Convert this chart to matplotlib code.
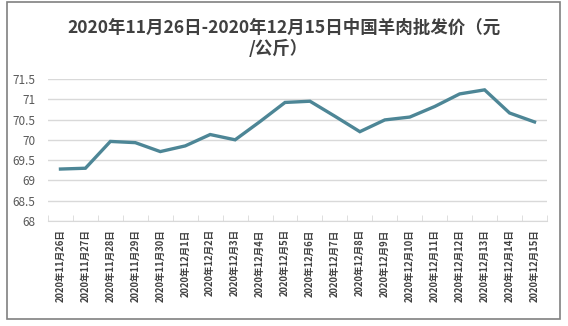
import matplotlib.pyplot as plt
from matplotlib.patches import Rectangle

plt.rcParams['font.family'] = ['Noto Sans CJK SC', 'DejaVu Sans']

# wholesale mutton price, yuan per kg
days = ['2020年11月26日', '2020年11月27日', '2020年11月28日', '2020年11月29日',
        '2020年11月30日', '2020年12月1日', '2020年12月2日', '2020年12月3日',
        '2020年12月4日', '2020年12月5日', '2020年12月6日', '2020年12月7日',
        '2020年12月8日', '2020年12月9日', '2020年12月10日', '2020年12月11日',
        '2020年12月12日', '2020年12月13日', '2020年12月14日', '2020年12月15日']
price = [69.28, 69.30, 69.96, 69.93, 69.71, 69.85, 70.13, 70.00, 70.45, 70.92,
         70.95, 70.58, 70.20, 70.49, 70.56, 70.82, 71.13, 71.23, 70.66, 70.44]
yticks = [68, 68.5, 69, 69.5, 70, 70.5, 71, 71.5]

fig = plt.figure(figsize=(5.68, 3.26), dpi=100)
ax = fig.add_axes([0.0845, 0.322, 0.8785, 0.436])

x = range(len(days))
ax.plot(x, price, color='#4d8696', linewidth=2.4, solid_joinstyle='miter')

ax.set_xlim(-0.5, len(days) - 0.5)
ax.set_ylim(68, 71.5)
ax.set_yticks(yticks)
ax.set_yticklabels([f'{v:g}' for v in yticks])
ax.yaxis.grid(True, color='#d9d9d9', linewidth=1)
ax.set_axisbelow(True)

ax.set_xticks(list(x))
ax.set_xticklabels(days, rotation=90, fontsize=6.8, fontweight='bold', color='#404040')
ax.set_xticks([i - 0.5 for i in range(len(days) + 1)], minor=True)
ax.tick_params(axis='x', which='major', length=0, pad=6)
ax.tick_params(axis='x', which='minor', length=4, color='#d9d9d9', direction='in')
ax.tick_params(axis='y', length=0, labelsize=8.5, labelcolor='#595959', pad=9)

for s in ['top', 'right', 'left']:
    ax.spines[s].set_visible(False)
ax.spines['bottom'].set_color('#d9d9d9')

fig.text(284 / 568, 1 - 28 / 326, '2020年11月26日-2020年12月15日中国羊肉批发价（元',
         ha='center', va='center', fontsize=12.6, fontweight='bold', color='#404040')
fig.text(278 / 568, 1 - 49 / 326, '/公斤）',
         ha='center', va='center', fontsize=12.6, fontweight='bold', color='#404040')

fig.patches.append(Rectangle((7 / 568, 1 - 319 / 326), 553 / 568, 317 / 326,
                             transform=fig.transFigure, fill=False,
                             edgecolor='#808080', linewidth=1.2))

fig.savefig('out.png', dpi=100)
